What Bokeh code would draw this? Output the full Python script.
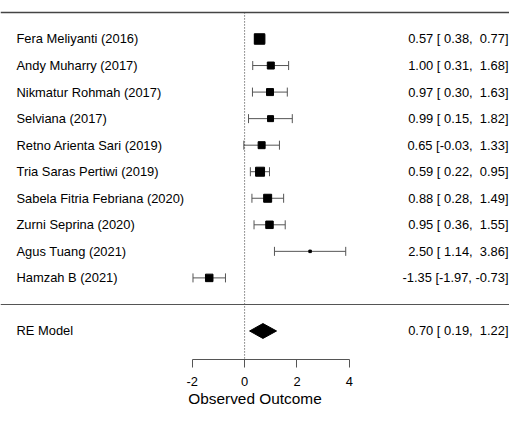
from bokeh.plotting import figure
from bokeh.models import Range1d, Whisker, TeeHead, ColumnDataSource, LinearAxis, FixedTicker, Span
from bokeh.core.properties import value
from bokeh.embed import file_html
from bokeh.resources import INLINE

# ---- data ----
studies = ["Fera Meliyanti (2016)", "Andy Muharry (2017)", "Nikmatur Rohmah (2017)",
           "Selviana (2017)", "Retno Arienta Sari (2019)", "Tria Saras Pertiwi (2019)",
           "Sabela Fitria Febriana (2020)", "Zurni Seprina (2020)", "Agus Tuang (2021)",
           "Hamzah B (2021)"]
estimates = [0.57, 1.00, 0.97, 0.99, 0.65, 0.59, 0.88, 0.95, 2.50, -1.35]
ci_lower = [0.38, 0.31, 0.30, 0.15, -0.03, 0.22, 0.28, 0.36, 1.14, -1.97]
ci_upper = [0.77, 1.68, 1.63, 1.82, 1.33, 0.95, 1.49, 1.55, 3.86, -0.73]
re_label = "RE Model"
re_estimate = 0.70
re_lower = 0.19
re_upper = 1.22
x_ticks = [-2, 0, 2, 4]
x_tick_labels = ["-2", "0", "2", "4"]
x_label = "Observed Outcome"

# ---- styles ----
box_px = [10.5, 7, 7, 6, 7, 9, 8, 7.5, 2.5, 7.5]
FONT = "Liberation Sans"
FS = "12.9px"
LINE = "#555555"
NB = "\u00a0"


def fmt(v):
    return f"{v:.2f}".rjust(5, NB)


def ci_text(e, lo, hi):
    return f"{fmt(e).lstrip(NB)} [{fmt(lo)}, {fmt(hi)}]"


n = len(studies)
rows = list(range(n, 0, -1))
re_row = -1

x0, x1 = -9.317, 10.111
y0, y1 = -2.074, 11.45
p = figure(width=509, height=409, x_range=Range1d(x0, x1), y_range=Range1d(y0, y1),
           x_axis_type=None, y_axis_type=None, toolbar_location=None,
           output_backend="svg", min_border=0, min_border_bottom=46)
p.outline_line_color = None
p.background_fill_color = "white"

# separators and reference line
top_row = n + 1
p.add_layout(Span(location=top_row, dimension="width", line_color="#444444",
                  line_width=1.5, level="overlay"))
p.add_layout(Span(location=0, dimension="width", line_color=LINE, line_width=1.1))
p.segment(x0=[0], y0=[top_row], x1=[0], y1=[y0], line_color="#333333", line_width=1,
          line_dash="1 2")

# CIs
src = ColumnDataSource(dict(y=rows, lo=ci_lower, hi=ci_upper, est=estimates, sz=box_px,
                            lab=studies,
                            txt=[ci_text(e, l, h) for e, l, h in zip(estimates, ci_lower, ci_upper)]))
w = Whisker(source=src, base="y", lower="lo", upper="hi", dimension="width",
            line_color=LINE, line_width=1,
            lower_head=TeeHead(size=9, line_color=LINE, line_width=1),
            upper_head=TeeHead(size=9, line_color=LINE, line_width=1))
p.add_layout(w)

p.scatter(x="est", y="y", size="sz", marker="square", color="black", source=src)

# RE diamond
h = 0.28
p.patch(x=[re_lower, re_estimate, re_upper, re_estimate],
        y=[re_row, re_row + h, re_row, re_row - h], color="black", line_width=1)

# texts
p.text(x=x0, y="y", text="lab", source=src, x_offset=16, text_align="left",
       text_baseline="middle", text_font=value(FONT), text_font_size=FS, text_color="black")
p.text(x=x1, y="y", text="txt", source=src, x_offset=-1, text_align="right",
       text_baseline="middle", text_font=value(FONT), text_font_size=FS, text_color="black")
p.text(x=[x0], y=[re_row], text=[re_label], x_offset=16, text_align="left",
       text_baseline="middle", text_font=value(FONT), text_font_size=FS, text_color="black")
p.text(x=[x1], y=[re_row], text=[ci_text(re_estimate, re_lower, re_upper)], x_offset=-1,
       text_align="right", text_baseline="middle", text_font=value(FONT),
       text_font_size=FS, text_color="black")

# axis
ax = LinearAxis(ticker=FixedTicker(ticks=x_ticks), bounds=(min(x_ticks), max(x_ticks)),
                axis_label=x_label,
                major_label_overrides={t: s for t, s in zip(x_ticks, x_tick_labels)})
ax.axis_line_color = LINE
ax.major_tick_line_color = LINE
ax.major_tick_in = 0
ax.major_tick_out = 8
ax.minor_tick_line_color = None
ax.major_label_standoff = 9
ax.major_label_text_font = FONT
ax.major_label_text_font_size = FS
ax.major_label_text_color = "black"
ax.axis_label_standoff = 1
ax.axis_label_text_font = FONT
ax.axis_label_text_font_size = "15.4px"
ax.axis_label_text_font_style = "normal"
ax.axis_label_text_color = "black"
p.add_layout(ax, "below")

open("out.html", "w").write(file_html(p, INLINE))
